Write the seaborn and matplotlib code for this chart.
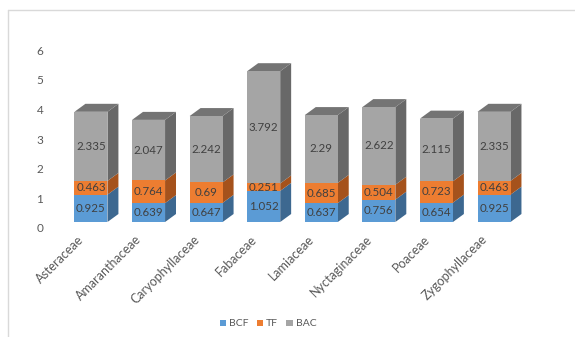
import numpy as np
import pandas as pd
import matplotlib
matplotlib.use("Agg")
import matplotlib.pyplot as plt
from matplotlib.transforms import ScaledTranslation
from matplotlib.lines import Line2D
from matplotlib.patches import Patch
import seaborn as sns

categories = ["Asteraceae", "Amaranthaceae", "Caryophyllaceae", "Fabaceae",
              "Lamiaceae", "Nyctaginaceae", "Poaceae", "Zygophyllaceae"]
bcf = [0.925, 0.639, 0.647, 1.052, 0.637, 0.756, 0.654, 0.925]
tf = [0.463, 0.764, 0.69, 0.251, 0.685, 0.504, 0.723, 0.463]
bac = [2.335, 2.047, 2.242, 3.792, 2.29, 2.622, 2.115, 2.335]
series_names = ["BCF", "TF", "BAC"]
yticks = [0, 1, 2, 3, 4, 5, 6]

front = ["#5b9bd5", "#ed7d31", "#a5a5a5"]
side = ["#3d6890", "#a5521c", "#686868"]
top_col = "#747474"

sns.set_theme(style="white")
plt.rcParams["font.family"] = ["Lato", "DejaVu Sans"]

W, H = 575, 337
fig = plt.figure(figsize=(W / 100, H / 100), dpi=100)
# axes in pixel coords
left_px, right_px = 60, 540
bottom_px, top_px = 222, 44.4
ax = fig.add_axes([left_px / W, 1 - bottom_px / H,
                   (right_px - left_px) / W, (bottom_px - top_px) / H])

df = pd.DataFrame({"cat": categories, "BCF": bcf, "TF": tf, "BAC": bac})
df["c1"] = df["BCF"]
df["c2"] = df["BCF"] + df["TF"]
df["c3"] = df["c2"] + df["BAC"]

width = 0.573
for col, c in zip(["c3", "c2", "c1"], [front[2], front[1], front[0]]):
    sns.barplot(data=df, x="cat", y=col, color=c, width=width,
                saturation=1, ax=ax, linewidth=0, zorder=3)

dx, dy = 0.19, 0.27
for i in range(len(categories)):
    bounds = [0, df["c1"][i], df["c2"][i], df["c3"][i]]
    xr = i + width / 2
    xl = i - width / 2
    for s in range(3):
        b, t = bounds[s], bounds[s + 1]
        ax.fill([xr, xr + dx, xr + dx, xr], [b, b + dy, t + dy, t],
                color=side[s], lw=0, zorder=2)
        vals = [bcf, tf, bac][s]
        ax.text(i, (b + t) / 2, f"{vals[i]:g}", ha="center", va="center",
                fontsize=8.3, color="#404040", zorder=5)
    T = bounds[3]
    ax.fill([xl, xl + dx, xr + dx, xr], [T, T + dy, T + dy, T],
            color=top_col, lw=0, zorder=2)

ax.set_xlim(-(91 - left_px) / 57.6, 7 + (right_px - 494) / 57.6)
ax.set_ylim(0, 6)
ax.set_yticks(yticks)
ax.set_yticklabels([str(v) for v in yticks])
ax.set_xlabel("")
ax.set_ylabel("")
for sp in ax.spines.values():
    sp.set_visible(False)
ax.tick_params(axis="y", length=0, pad=12, labelsize=8.5, labelcolor="#595959")
ax.tick_params(axis="x", length=0, pad=11, labelsize=9, labelcolor="#595959")
for lab in ax.get_yticklabels():
    lab.set_transform(lab.get_transform() + ScaledTranslation(0, -0.06, fig.dpi_scale_trans))
for lab in ax.get_xticklabels():
    lab.set_rotation(45)
    lab.set_ha("right")
    lab.set_va("center")
    lab.set_rotation_mode("anchor")
    lab.set_transform(lab.get_transform() + ScaledTranslation(-0.09, 0, fig.dpi_scale_trans))

# outer frame lines
fig.add_artist(Line2D([8 / W, 1], [1 - 10 / H, 1 - 10 / H], color="#d9d9d9", lw=1))
fig.add_artist(Line2D([8 / W, 8 / W], [0, 1 - 10 / H], color="#d9d9d9", lw=1))

handles = [Patch(facecolor=c, edgecolor="none") for c in front]
fig.legend(handles, series_names, loc="center", bbox_to_anchor=(268 / W, 1 - 324 / H),
           ncol=3, frameon=False, fontsize=7.5, handlelength=0.6, handleheight=0.6,
           handletextpad=0.3, columnspacing=0.8, labelcolor="#595959")

fig.savefig("out.png", dpi=100)
